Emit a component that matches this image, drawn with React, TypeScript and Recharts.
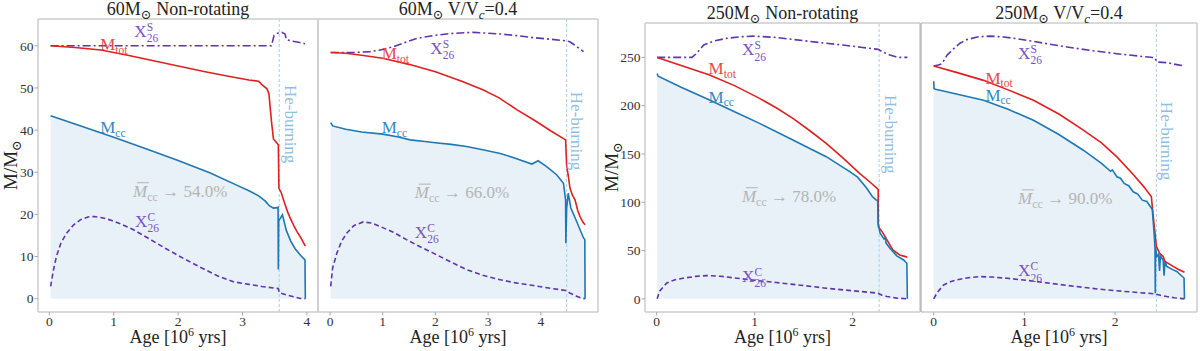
import React from 'react';
import { ComposedChart, Line, Area, XAxis, YAxis, ReferenceLine, ReferenceDot } from 'recharts';

type Pt = [number, number];

const SERIF = '"Liberation Serif", "DejaVu Serif", serif';

const RED = '#df2020';
const BLUE = '#1f77b4';
const PURPLE = '#5f35ad';
const RED_TXT = '#e5484b';
const BLUE_TXT = '#3288c8';
const PURPLE_TXT = '#7a52c4';
const GRAY_TXT = '#b4b4b4';
const HE_LINE = '#a9cfe9';
const HE_TXT = '#8fbfe0';
const FRAME = '#cccccc';
const TICK = '#a8a8a8';

// ---- 60 Msun, non-rotating ----
const mtot60nr: Pt[] = [
  [0.02, 60], [0.4, 59.6], [0.8, 59.0], [1.2, 57.8], [1.6, 56.5], [2.0, 55.2], [2.4, 53.9],
  [2.8, 52.7], [3.1, 51.9], [3.25, 51.6], [3.3, 50.8], [3.38, 49.8], [3.41, 48.6], [3.45, 42],
  [3.48, 37.9], [3.52, 37.2], [3.556, 36.5], [3.565, 26.2], [3.6, 25.2], [3.65, 22.8], [3.7, 20.6],
  [3.75, 18.8], [3.8, 17.2], [3.85, 15.8], [3.9, 14.6], [3.95, 13.2], [3.975, 12.5],
];
const mcc60nr: Pt[] = [
  [0.02, 43.4], [0.5, 40.9], [1.0, 38.3], [1.5, 35.6], [2.0, 32.8], [2.5, 29.8], [2.9, 27.0],
  [3.1, 25.6], [3.25, 24.4], [3.35, 23.2], [3.42, 22.0], [3.48, 21.5], [3.54, 21.6], [3.552, 21.7],
  [3.556, 6.9], [3.562, 18.5], [3.62, 19.9], [3.68, 16.2], [3.75, 13.6], [3.82, 11.8], [3.9, 10.3],
  [3.97, 9.2], [3.975, 0],
];
const xc60nr: Pt[] = [
  [0.02, 2.9], [0.06, 6.5], [0.11, 10.0], [0.18, 13.2], [0.27, 15.6], [0.37, 17.4], [0.48, 18.7],
  [0.6, 19.4], [0.7, 19.5], [0.82, 19.2], [0.94, 18.7], [1.1, 17.8], [1.3, 16.4], [1.55, 14.2],
  [1.82, 11.8], [2.1, 9.4], [2.34, 7.5], [2.6, 5.5], [2.86, 4.0], [3.1, 3.4], [3.3, 2.9],
  [3.556, 2.4], [3.57, 1.4], [3.7, 0.8], [3.84, 0.3], [3.9, 0.05], [3.975, 0],
];
const xs60nr: Pt[] = [
  [0.02, 60], [1.0, 60], [2.0, 60], [3.0, 60], [3.45, 60], [3.49, 62.5], [3.56, 63.1], [3.61, 63.2],
  [3.66, 62.8], [3.68, 61.5], [3.74, 61.2], [3.85, 60.9], [3.97, 60.5],
];

// ---- 60 Msun, V/Vc = 0.4 ----
const mtot60r: Pt[] = [
  [0.013, 60], [0.3, 59.8], [0.6, 59.3], [1.0, 58.6], [1.5, 57.1], [2.0, 55.3], [2.5, 53.0],
  [2.9, 50.9], [3.2, 49.0], [3.55, 46.0], [3.9, 43.3], [4.2, 40.8], [4.47, 38.7], [4.49, 32.6],
  [4.52, 30], [4.554, 26.9], [4.6, 25.2], [4.649, 24.1], [4.7, 21.5], [4.744, 20.0], [4.8, 18.6],
  [4.84, 18.0],
];
const mcc60r: Pt[] = [
  [0.013, 42.9], [0.05, 42.1], [0.3, 41.3], [0.6, 40.6], [1.0, 40.1], [1.3, 39.4], [1.52, 38.7],
  [1.8, 38.3], [2.0, 38.0], [2.3, 37.6], [2.59, 37.1], [2.9, 36.3], [3.23, 35.4], [3.5, 34.3],
  [3.83, 32.8], [3.95, 33.6], [4.11, 32.2], [4.3, 30.2], [4.43, 28.1], [4.47, 24.1], [4.475, 13.5],
  [4.49, 22], [4.52, 25.7], [4.57, 22.1], [4.68, 18.8], [4.81, 14.8], [4.835, 14.4], [4.84, 0],
];
const xc60r: Pt[] = [
  [0.013, 3.0], [0.05, 7.5], [0.13, 11.1], [0.22, 14.0], [0.32, 16.0], [0.45, 17.8], [0.63, 18.7],
  [0.8, 18.4], [0.95, 17.6], [1.2, 16.2], [1.45, 14.4], [1.7, 12.7], [1.96, 11.1], [2.3, 8.9],
  [2.59, 7.1], [2.9, 5.7], [3.23, 4.6], [3.55, 3.8], [3.86, 3.2], [4.2, 2.5], [4.47, 2.0],
  [4.55, 1.4], [4.68, 0.6], [4.76, 0.2], [4.84, 0],
];
const xs60r: Pt[] = [
  [0.013, 60], [0.5, 60], [0.76, 60.2], [1.0, 60.7], [1.2, 61.4], [1.42, 62.4], [1.64, 63.4],
  [1.95, 64.1], [2.28, 64.6], [2.72, 64.9], [3.23, 64.5], [3.55, 64.1], [3.86, 63.6], [4.2, 63.2],
  [4.49, 62.8], [4.55, 62.6], [4.62, 62.0], [4.68, 61.4], [4.75, 60.8], [4.81, 60.2],
];

// ---- 250 Msun, non-rotating ----
const mtot250nr: Pt[] = [
  [0.005, 250], [0.25, 241.5], [0.54, 231.7], [0.8, 220.5], [1.05, 207.6], [1.22, 197.8],
  [1.39, 186.9], [1.56, 174.3], [1.73, 161], [1.9, 146.0], [2.07, 130], [2.17, 121.5],
  [2.26, 113.4], [2.262, 74.8], [2.3, 69.6], [2.35, 61], [2.41, 50.7], [2.48, 45.5], [2.53, 44],
  [2.558, 43.1],
];
const mcc250nr: Pt[] = [
  [0.005, 233.4], [0.015, 230.5], [0.25, 219], [0.54, 205.9], [0.8, 193.5], [1.05, 181.7],
  [1.39, 164.5], [1.73, 147.2], [1.97, 131.7], [2.05, 126], [2.14, 115], [2.2, 106], [2.24, 102.4],
  [2.255, 102], [2.26, 78], [2.28, 67.9], [2.32, 62], [2.335, 63.5], [2.34, 58], [2.38, 52.4],
  [2.45, 44.5], [2.52, 40.3], [2.553, 36.9], [2.558, 0],
];
const xc250nr: Pt[] = [
  [0.005, 0], [0.03, 8], [0.1, 16.2], [0.18, 19.6], [0.27, 21.4], [0.4, 23.3], [0.51, 24.1],
  [0.65, 23.4], [0.82, 21.4], [1.0, 19.2], [1.22, 16.9], [1.5, 13.8], [1.73, 11.0], [2.0, 8.4],
  [2.26, 5.9], [2.3, 3.8], [2.35, 2.4], [2.45, 0.8], [2.558, 0],
];
const xs250nr: Pt[] = [
  [0.005, 250], [0.36, 250], [0.4, 253.5], [0.48, 262.8], [0.58, 266.8], [0.71, 269.7],
  [0.85, 271.3], [0.99, 272], [1.2, 270.8], [1.39, 268.6], [1.65, 265.5], [1.9, 262.8],
  [2.1, 260.3], [2.26, 258.3], [2.32, 255], [2.38, 252.4], [2.44, 250.6], [2.48, 250], [2.558, 250],
];

// ---- 250 Msun, V/Vc = 0.4 ----
const mtot250r: Pt[] = [
  [0, 250], [0.25, 243.2], [0.55, 234.6], [0.82, 224.4], [1.1, 213.2], [1.38, 198.5],
  [1.65, 181.1], [1.85, 167.5], [2.02, 152.5], [2.2, 133.5], [2.32, 120], [2.40, 109.6],
  [2.41, 99], [2.44, 70.4], [2.455, 56.3], [2.49, 49.2], [2.53, 45.6], [2.55, 40.2], [2.64, 34.9],
  [2.7, 31.5], [2.765, 28.5],
];
const mcc250r: Pt[] = [
  [0, 233.6], [0.004, 225.7], [0.02, 225], [0.25, 220], [0.55, 213.2], [0.82, 203.5],
  [1.1, 191.8], [1.38, 176.5], [1.65, 159.6], [1.85, 145.5], [1.95, 137], [1.97, 138.5],
  [2.02, 131.1], [2.06, 129.5], [2.1, 124], [2.15, 121.5], [2.2, 115], [2.25, 112.5], [2.3, 106],
  [2.35, 104.5], [2.39, 98.9], [2.41, 96], [2.43, 70.4], [2.44, 54], [2.443, 6], [2.446, 55],
  [2.46, 45.4], [2.48, 48], [2.49, 30], [2.5, 46], [2.53, 41.8], [2.54, 25], [2.55, 40],
  [2.57, 34.9], [2.64, 31.1], [2.68, 29.5], [2.76, 22.4], [2.765, 0],
];
const xc250r: Pt[] = [
  [0, 0], [0.04, 7], [0.11, 15], [0.2, 19], [0.29, 21.1], [0.4, 23], [0.51, 23.9], [0.65, 23.4],
  [0.81, 22.1], [1.05, 19.6], [1.28, 16.8], [1.55, 13.5], [1.83, 10.4], [2.1, 8.0], [2.44, 5.4],
  [2.5, 3.8], [2.57, 2.5], [2.65, 1.2], [2.765, 0],
];
const xs250r: Pt[] = [
  [0, 250], [0.05, 251], [0.09, 252.5], [0.15, 262], [0.22, 268.6], [0.29, 274.5], [0.36, 278.2],
  [0.48, 281.2], [0.62, 282.1], [0.77, 281.2], [0.92, 279.3], [1.2, 274.8], [1.47, 270.4],
  [1.75, 266.5], [2.02, 263.2], [2.25, 260.8], [2.44, 258.9], [2.46, 254.3], [2.57, 253.6],
  [2.68, 251.5], [2.765, 250],
];

const xTicks60 = [0, 1, 2, 3, 4];
const xTicks250 = [0, 1, 2];
const yTicks60 = [0, 10, 20, 30, 40, 50, 60];
const yTicks250 = [0, 50, 100, 150, 200, 250];
const heStart = [3.57, 4.49, 2.27, 2.455];
const fractions = ['54.0%', '66.0%', '78.0%', '90.0%'];

type Anno = { x: number; y: number };
type PanelCfg = {
  mass: string;
  rot: boolean;
  series: Record<string, Pt[]>;
  he: number;
  frac: string;
  xDomain: [number, number];
  yDomain: [number, number];
  xTicks: number[];
  yTicks: number[];
  yLabels: boolean;
  leftColor: string;
  leftWidth: number;
  box: { x: number; y: number; w: number; h: number };
  ann: { mtot: Anno; mcc: Anno; xs: Anno; xc: Anno; bar: Anno; he: Anno };
};

const panels: PanelCfg[] = [
  {
    mass: '60', rot: false,
    series: { mtot: mtot60nr, mcc: mcc60nr, xc: xc60nr, xs: xs60nr },
    he: heStart[0], frac: fractions[0],
    xDomain: [-0.176, 4.172], yDomain: [-3.16, 66.36], xTicks: xTicks60, yTicks: yTicks60,
    yLabels: true, leftColor: FRAME, leftWidth: 1.5,
    box: { x: 38, y: 19, w: 280, h: 293 },
    ann: {
      mtot: { x: 0.79, y: 59.0 }, xs: { x: 1.32, y: 62.2 }, mcc: { x: 0.79, y: 39.2 },
      bar: { x: 1.3, y: 24.2 }, xc: { x: 1.33, y: 17.1 }, he: { x: 3.66, y: 50.7 },
    },
  },
  {
    mass: '60', rot: true,
    series: { mtot: mtot60r, mcc: mcc60r, xc: xc60r, xs: xs60r },
    he: heStart[1], frac: fractions[1],
    xDomain: [-0.228, 5.085], yDomain: [-3.245, 68.15], xTicks: xTicks60, yTicks: yTicks60,
    yLabels: false, leftColor: FRAME, leftWidth: 1.5,
    box: { x: 318, y: 19, w: 280, h: 293 },
    ann: {
      mtot: { x: 0.98, y: 58.3 }, xs: { x: 1.9, y: 59.7 }, mcc: { x: 0.98, y: 40.3 },
      bar: { x: 1.61, y: 24.5 }, xc: { x: 1.61, y: 14.8 }, he: { x: 4.57, y: 50.4 },
    },
  },
  {
    mass: '250', rot: false,
    series: { mtot: mtot250nr, mcc: mcc250nr, xc: xc250nr, xs: xs250nr },
    he: heStart[2], frac: fractions[2],
    xDomain: [-0.119, 2.687], yDomain: [-13.6, 285.6], xTicks: xTicks250, yTicks: yTicks250,
    yLabels: true, leftColor: FRAME, leftWidth: 1.5,
    box: { x: 645, y: 23, w: 275, h: 289 },
    ann: {
      mtot: { x: 0.53, y: 232.7 }, xs: { x: 0.87, y: 252.4 }, mcc: { x: 0.53, y: 203 },
      bar: { x: 0.87, y: 100.6 }, xc: { x: 0.87, y: 17.9 }, he: { x: 2.33, y: 211 },
    },
  },
  {
    mass: '250', rot: true,
    series: { mtot: mtot250r, mcc: mcc250r, xc: xc250r, xs: xs250r },
    he: heStart[3], frac: fractions[3],
    xDomain: [-0.14, 2.903], yDomain: [-14.1, 296.2], xTicks: xTicks250, yTicks: yTicks250,
    yLabels: false, leftColor: '#a0a0a0', leftWidth: 1,
    box: { x: 921, y: 23, w: 276, h: 289 },
    ann: {
      mtot: { x: 0.57, y: 231 }, xs: { x: 0.93, y: 257.9 }, mcc: { x: 0.57, y: 212.5 },
      bar: { x: 0.93, y: 102 }, xc: { x: 0.93, y: 24.2 }, he: { x: 2.51, y: 211.5 },
    },
  },
];

// merge the series into one table keyed by age
function buildRows(series: Record<string, Pt[]>) {
  const rows: Record<string, number>[] = [];
  Object.entries(series).forEach(([key, pts]) => {
    pts.forEach(([t, v]) => rows.push({ t, [key]: v }));
  });
  return rows.sort((a, b) => a.t - b.t);
}

const PAD_L = 44;
const PAD_R = 6;
const PAD_T = 6;
const PAD_B = 34;

const MSub = ({ cx, cy, sub, color }: any) => (
  <text x={cx} y={cy} fontSize={17} fill={color} fontFamily={SERIF}>
    M<tspan dy={3.5} fontSize={11.5}>{sub}</tspan>
  </text>
);

const XLabel = ({ cx, cy, sup }: any) => (
  <g fill={PURPLE_TXT} fontFamily={SERIF}>
    <text x={cx} y={cy} fontSize={17}>X</text>
    <text x={cx + 12.5} y={cy - 6} fontSize={11.5}>{sup}</text>
    <text x={cx + 12.5} y={cy + 5.5} fontSize={11.5}>26</text>
  </g>
);

const BarLabel = ({ cx, cy, frac }: any) => (
  <g fill={GRAY_TXT} fontFamily={SERIF}>
    <text x={cx} y={cy} fontSize={17}>
      <tspan fontStyle="italic">M</tspan>
      <tspan dy={4} fontSize={12}>cc</tspan>
      <tspan dy={-4}>{' \u2192 ' + frac}</tspan>
    </text>
    <line x1={cx + 4} x2={cx + 16} y1={cy - 14} y2={cy - 14} stroke={GRAY_TXT} strokeWidth={1} />
  </g>
);

const HeLabel = ({ cx, cy }: any) => (
  <text x={cx} y={cy} transform={`rotate(90 ${cx} ${cy})`} fontSize={17} fill={HE_TXT} fontFamily={SERIF}>
    He-burning
  </text>
);

function Panel({ p }: { p: PanelCfg }) {
  const rows = buildRows(p.series);
  const w = p.box.w + PAD_L + PAD_R;
  const h = p.box.h + PAD_T + PAD_B;
  const tickStyle = { fill: '#333', fontSize: 13.5, fontFamily: SERIF };
  const a = p.ann;
  return (
    <div style={{ position: 'absolute', left: p.box.x - PAD_L, top: p.box.y - PAD_T }}>
      <ComposedChart width={w} height={h} data={rows} margin={{ top: PAD_T, right: PAD_R, bottom: 0, left: 0 }}>
        <XAxis
          type="number" dataKey="t" domain={p.xDomain} ticks={p.xTicks} allowDataOverflow
          height={PAD_B} tickSize={3.5} tickMargin={1} tick={tickStyle}
          axisLine={{ stroke: FRAME, strokeWidth: 1.5 }} tickLine={{ stroke: TICK }}
        />
        <YAxis
          type="number" domain={p.yDomain} ticks={p.yTicks} allowDataOverflow width={PAD_L}
          tickSize={3.5} tickMargin={1} tick={p.yLabels ? tickStyle : false}
          axisLine={{ stroke: p.leftColor, strokeWidth: p.leftWidth }} tickLine={{ stroke: TICK }}
        />
        <Area
          dataKey="mcc" type="linear" stroke="none" fill={BLUE} fillOpacity={0.1}
          baseValue={0} connectNulls isAnimationActive={false}
        />
        <ReferenceLine x={p.he} stroke={HE_LINE} strokeWidth={1} strokeDasharray="3 2" />
        <Line dataKey="xc" type="linear" stroke={PURPLE} strokeWidth={1.6} strokeDasharray="5 3"
          dot={false} connectNulls isAnimationActive={false} />
        <Line dataKey="xs" type="linear" stroke={PURPLE} strokeWidth={1.6} strokeDasharray="8 3 2 3"
          dot={false} connectNulls isAnimationActive={false} />
        <Line dataKey="mtot" type="linear" stroke={RED} strokeWidth={1.6}
          dot={false} connectNulls isAnimationActive={false} />
        <Line dataKey="mcc" type="linear" stroke={BLUE} strokeWidth={1.6}
          dot={false} connectNulls isAnimationActive={false} />
        <ReferenceLine y={p.yDomain[1]} stroke={FRAME} strokeWidth={1.5} />
        <ReferenceLine x={p.xDomain[1]} stroke={FRAME} strokeWidth={1.5} />
        <ReferenceDot x={a.mtot.x} y={a.mtot.y} r={0}
          shape={(s: any) => <MSub cx={s.cx} cy={s.cy} sub="tot" color={RED_TXT} />} />
        <ReferenceDot x={a.mcc.x} y={a.mcc.y} r={0}
          shape={(s: any) => <MSub cx={s.cx} cy={s.cy} sub="cc" color={BLUE_TXT} />} />
        <ReferenceDot x={a.xs.x} y={a.xs.y} r={0}
          shape={(s: any) => <XLabel cx={s.cx} cy={s.cy} sup="S" />} />
        <ReferenceDot x={a.xc.x} y={a.xc.y} r={0}
          shape={(s: any) => <XLabel cx={s.cx} cy={s.cy} sup="C" />} />
        <ReferenceDot x={a.bar.x} y={a.bar.y} r={0}
          shape={(s: any) => <BarLabel cx={s.cx} cy={s.cy} frac={p.frac} />} />
        <ReferenceDot x={a.he.x} y={a.he.y} r={0}
          shape={(s: any) => <HeLabel cx={s.cx} cy={s.cy} />} />
      </ComposedChart>
    </div>
  );
}

function Texts() {
  return (
    <svg width={1200} height={351} style={{ position: 'absolute', left: 0, top: 0, pointerEvents: 'none' }}
      fontFamily={SERIF} fill="#222">
      {panels.map((p, i) => {
        const cx = p.box.x + p.box.w / 2;
        return (
          <g key={i}>
            <text x={cx} y={p.box.y - 3.8} fontSize={18} textAnchor="middle">
              {p.mass}M<tspan dy={4} fontSize={13}>{'\u2299'}</tspan>
              {p.rot ? (
                <>
                  <tspan dy={-4}>{' V/V'}</tspan>
                  <tspan dy={4} fontSize={13} fontStyle="italic">c</tspan>
                  <tspan dy={-4}>=0.4</tspan>
                </>
              ) : (
                <tspan dy={-4}> Non-rotating</tspan>
              )}
            </text>
            <text x={cx} y={343} fontSize={18} textAnchor="middle">
              Age [10<tspan dy={-7} fontSize={12}>6</tspan><tspan dy={7}> yrs]</tspan>
            </text>
          </g>
        );
      })}
      {[{ x: 17, y: 165 }, { x: 618, y: 167 }].map((q, i) => (
        <text key={i} x={q.x} y={q.y} fontSize={19} textAnchor="middle" transform={`rotate(-90 ${q.x} ${q.y})`}>
          M/M<tspan dy={4} fontSize={13}>{'\u2299'}</tspan>
        </text>
      ))}
    </svg>
  );
}

export default function App() {
  return (
    <div style={{
      position: 'absolute', left: 0, top: 0, width: 1200, height: 351,
      background: '#fff', overflow: 'hidden', fontFamily: SERIF,
    }}>
      {panels.map((p, i) => (
        <Panel key={i} p={p} />
      ))}
      <Texts />
    </div>
  );
}
